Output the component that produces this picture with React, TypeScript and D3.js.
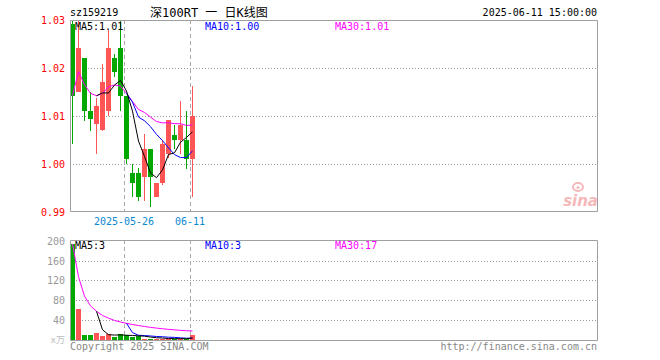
import React from "react";
import * as d3 from "d3";

const code = "sz159219";
const title = "深100RT 一 日K线图";
const stamp = "2025-06-11 15:00:00";
const dates = ["05-13","05-14","05-15","05-16","05-19","05-20","05-21","05-22","05-23","2025-05-26","05-27","05-28","05-29","05-30","06-03","06-04","06-05","06-06","06-09","06-10","06-11"];
const opens  = [1.0292,1.0151,1.0222,1.0111,1.0083,1.0072,1.0111,1.0222,1.0243,1.0143,0.9982,0.9982,0.9972,1.0032,0.9932,0.9961,1.0022,1.0061,1.0051,1.0051,1.0011];
const closes = [1.0143,1.0243,1.0111,1.0094,1.0122,1.0172,1.0243,1.0193,1.0143,1.0011,0.9961,0.9932,1.0032,0.9972,0.9961,1.0042,1.0092,1.0051,1.0082,1.0011,1.0101];
const highs  = [1.0300,1.0301,1.0222,1.0150,1.0138,1.0208,1.0280,1.0229,1.0300,1.0143,1.0000,0.9992,1.0063,1.0032,0.9961,1.0051,1.0092,1.0082,1.0131,1.0111,1.0162];
const lows   = [1.0042,1.0151,1.0090,1.0069,1.0021,1.0068,1.0100,1.0181,1.0110,1.0000,0.9931,0.9922,0.9922,0.9910,0.9932,0.9957,1.0012,1.0032,1.0021,0.9990,0.9931];
const volumes = [194,61,9,9,13,7,11,5,11,9,5,7,2,2,2,2,1.5,1.5,1.5,1.5,9];
const priceTicks = [1.03,1.02,1.01,1.00,0.99];
const volTicks = [200,160,120,80,40];
const dateTickIdx = [9,20];

const RED = "#ff5555";
const GREEN = "#00a800";
const FRAME = "#a0a0a0";
const MONO = "'DejaVu Sans Mono', 'Noto Sans CJK SC', monospace";

const L = 70, R = 597;
const PT = 20, PB = 211.5;
const VT = 240, VB = 340;

function ma(vals: number[], n: number, start: number) {
  const out: [number, number][] = [];
  for (let i = start; i < vals.length; i++) {
    const s = vals.slice(Math.max(0, i - n + 1), i + 1);
    out.push([i, d3.mean(s) as number]);
  }
  return out;
}

export default function App() {
  const x = d3.scaleLinear().domain([0, 1]).range([L, L + 6]);
  const yP = d3.scaleLinear().domain([0.99, 1.03]).range([212, 20.3]);
  const yV = d3.scaleLinear().domain([0, 200]).range([339.5, 241]);
  const n = closes.length;
  const idx = d3.range(n);

  const pMA5 = ma(closes, 5, 4), pMA10 = ma(closes, 10, 9), pMA30 = ma(closes, 30, 0);
  const vMA5 = ma(volumes, 5, 4), vMA10 = ma(volumes, 10, 9), vMA30 = ma(volumes, 30, 0);

  const lineP = d3.line<[number, number]>().x(d => x(d[0]) + 2.5).y(d => yP(d[1]));
  const lineV = d3.line<[number, number]>().x(d => x(d[0]) + 2.5).y(d => yV(d[1]));

  const last = (a: [number, number][]) => a[a.length - 1][1];

  return (
    <svg width={660} height={360} style={{ position: "absolute", left: 0, top: 0, background: "#fff" }} fontFamily={MONO} fontSize={10}>
      <rect x={0} y={0} width={660} height={360} fill="#fff" />
      {/* header */}
      <text x={70} y={16} fill="#000">{code}</text>
      <text x={150} y={17} fill="#000" fontSize={12}>{title}</text>
      <text x={597} y={16} fill="#000" textAnchor="end">{stamp}</text>

      {/* sina logo */}
      <g opacity={0.55}>
        <ellipse cx={578} cy={187} rx={5} ry={4} fill="none" stroke="#f08080" strokeWidth={2} />
        <circle cx={578} cy={187.5} r={1.5} fill="#f08080" />
        <text x={598} y={206} textAnchor="end" fill="#f08080" fontFamily="'DejaVu Sans', sans-serif" fontStyle="italic" fontWeight="bold" fontSize={15}>sina</text>
      </g>

      {/* price grid */}
      {priceTicks.slice(1, -1).map(t => (
        <line key={t} x1={L} x2={R} y1={Math.round(yP(t)) + 0.5} y2={Math.round(yP(t)) + 0.5} stroke="#999" strokeDasharray="1,2" />
      ))}
      {dateTickIdx.map(i => (
        <line key={i} x1={x(i) + 0.5} x2={x(i) + 0.5} y1={PT} y2={PB} stroke="#aaa" strokeDasharray="4,3" />
      ))}
      {/* candles */}
      {idx.map(i => {
        const up = closes[i] >= opens[i];
        const c = up ? RED : GREEN;
        const top = Math.round(yP(Math.max(opens[i], closes[i])));
        const bot = Math.round(yP(Math.min(opens[i], closes[i])));
        const hi = Math.round(yP(highs[i]));
        const lo = Math.round(yP(lows[i]));
        return (
          <g key={i}>
            <rect x={x(i) + 2} y={hi} width={1} height={Math.max(1, lo - hi)} fill={c} />
            <rect x={x(i)} y={top} width={5} height={Math.max(1, bot - top)} fill={c} />
          </g>
        );
      })}
      <path d={lineP(pMA30) || ""} fill="none" stroke="#ff00ff" strokeWidth={1} />
      <path d={lineP(pMA10) || ""} fill="none" stroke="#0000ff" strokeWidth={1} />
      <path d={lineP(pMA5) || ""} fill="none" stroke="#000" strokeWidth={1} />
      {/* price frame */}
      <path d={`M${L + 0.5},${PT + 0.5}H${R + 0.5}V${PB}M${L + 0.5},${PT + 0.5}V${PB}H${R + 0.5}`} fill="none" stroke={FRAME} />
      {priceTicks.map(t => (
        <text key={t} x={65} y={yP(t) + 4} textAnchor="end" fill="#ff0000">{t.toFixed(2)}</text>
      ))}
      <text x={75} y={30} fill="#000">MA5:{last(pMA5).toFixed(2)}</text>
      <text x={205} y={30} fill="#0000ff">MA10:{last(pMA10).toFixed(2)}</text>
      <text x={335} y={30} fill="#ff00ff">MA30:{last(pMA30).toFixed(2)}</text>
      {dateTickIdx.map(i => (
        <text key={i} x={x(i)} y={225} textAnchor="middle" fill="#0a88d0">{dates[i]}</text>
      ))}

      {/* volume grid */}
      {volTicks.slice(1).map(t => (
        <line key={t} x1={L} x2={R} y1={Math.round(yV(t)) + 0.5} y2={Math.round(yV(t)) + 0.5} stroke="#999" strokeDasharray="1,2" />
      ))}
      {dateTickIdx.map(i => (
        <line key={i} x1={x(i) + 0.5} x2={x(i) + 0.5} y1={VT} y2={VB} stroke="#aaa" strokeDasharray="4,3" />
      ))}
      {idx.map(i => {
        const up = closes[i] >= opens[i];
        const top = Math.round(yV(volumes[i]));
        return <rect key={i} x={x(i)} y={top} width={5} height={Math.max(1, VB - top)} fill={up ? RED : GREEN} />;
      })}
      <path d={lineV(vMA30) || ""} fill="none" stroke="#ff00ff" strokeWidth={1} />
      <path d={lineV(vMA10) || ""} fill="none" stroke="#0000ff" strokeWidth={1} />
      <path d={lineV(vMA5) || ""} fill="none" stroke="#000" strokeWidth={1} />
      <path d={`M${L + 0.5},${VT + 0.5}H${R + 0.5}V${VB + 0.5}H${L + 0.5}Z`} fill="none" stroke={FRAME} />
      {volTicks.map(t => (
        <text key={t} x={65} y={yV(t) + 4} textAnchor="end" fill="#999">{t}</text>
      ))}
      <text x={65} y={343} textAnchor="end" fill="#bbb" fontSize={9}>x万</text>
      <text x={75} y={249} fill="#000">MA5:{Math.round(last(vMA5))}</text>
      <text x={205} y={249} fill="#0000ff">MA10:{Math.round(last(vMA10))}</text>
      <text x={335} y={249} fill="#ff00ff">MA30:{Math.round(last(vMA30))}</text>

      <text x={70} y={350} fill="#888">Copyright 2025 SINA.COM</text>
      <text x={597} y={350} fill="#888" textAnchor="end">http://finance.sina.com.cn</text>
    </svg>
  );
}
